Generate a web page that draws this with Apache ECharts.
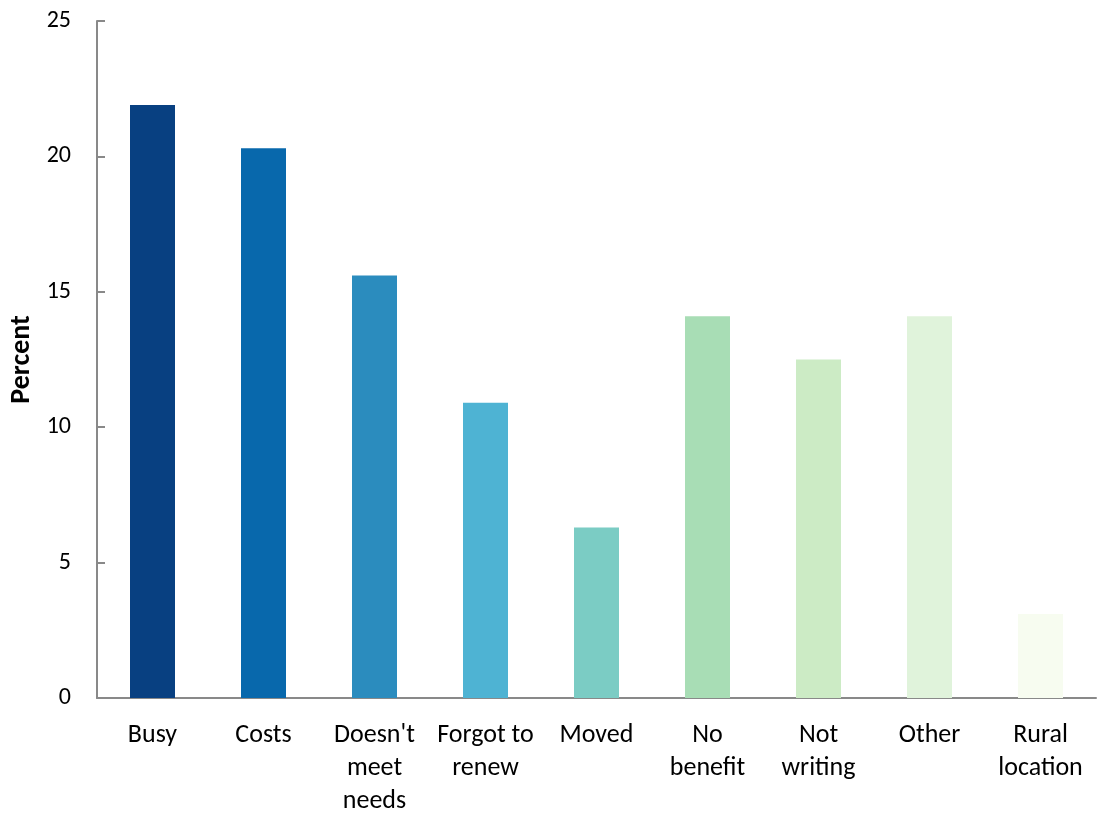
<!DOCTYPE html>
<html>
<head>
<meta charset="utf-8">
<script src="https://cdn.jsdelivr.net/npm/echarts@6/dist/echarts.min.js"></script>
<style>html,body{margin:0;padding:0;background:#fff}#c{width:1097px;height:814px}</style>
</head>
<body>
<div id="c"></div>
<script>
const categories = ["Busy", "Costs", "Doesn't\nmeet\nneeds", "Forgot to\nrenew", "Moved", "No\nbenefit", "Not\nwriting", "Other", "Rural\nlocation"];
const values = [21.9, 20.3, 15.6, 10.9, 6.3, 14.1, 12.5, 14.1, 3.1];
const colors = ["#084081", "#0868ac", "#2b8cbe", "#4eb3d3", "#7bccc4", "#a8ddb5", "#ccebc5", "#e0f3db", "#f7fcf0"];
const yTicks = [0, 5, 10, 15, 20, 25];

const chart = echarts.init(document.getElementById('c'));
const font = "Carlito, Lato, 'Open Sans', sans-serif";
chart.setOption({
  animation: false,
  grid: { left: 97, right: 1, top: 21, bottom: 116, containLabel: false, outerBoundsMode: 'none' },
  xAxis: {
    type: 'category',
    data: categories,
    axisLine: { lineStyle: { color: '#898989', width: 2 } },
    axisTick: { inside: true, length: 8, lineStyle: { color: '#898989', width: 2 } },
    axisLabel: { color: '#000', fontSize: 26, fontFamily: font, lineHeight: 33, margin: 21, interval: 0 }
  },
  yAxis: {
    type: 'value',
    min: yTicks[0], max: yTicks[yTicks.length - 1], interval: 5,
    name: 'Percent',
    nameLocation: 'middle',
    nameGap: 61,
    nameTextStyle: { color: '#000', fontSize: 28, fontWeight: 'bold', fontFamily: font },
    axisLine: { show: true, lineStyle: { color: '#898989', width: 2 } },
    axisTick: { show: true, inside: true, length: 8, lineStyle: { color: '#898989', width: 2 } },
    axisLabel: { color: '#000', fontSize: 24, fontFamily: font, margin: 26 },
    splitLine: { show: false }
  },
  series: [{
    type: 'bar',
    barWidth: 45,
    data: values.map((v, i) => ({ value: v, itemStyle: { color: colors[i] } }))
  }]
});
</script>
</body>
</html>
